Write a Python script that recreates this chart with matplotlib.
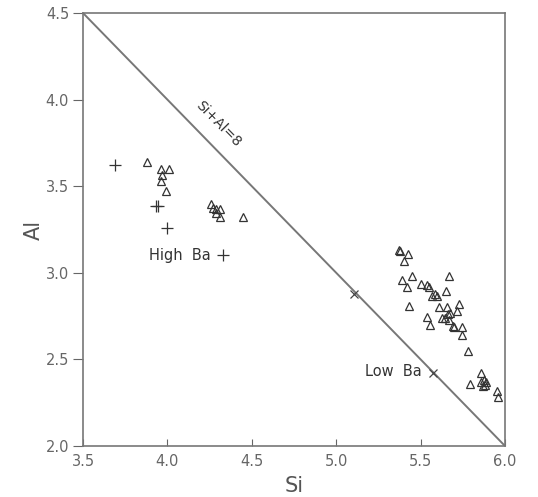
import matplotlib
matplotlib.use("Agg")
import matplotlib.pyplot as plt

# High Ba group
highba_tri_si = [3.88, 3.96, 4.01, 3.97, 3.96, 3.99,
                 4.26, 4.27, 4.29, 4.31, 4.29, 4.31, 4.45]
highba_tri_al = [3.64, 3.60, 3.60, 3.565, 3.53, 3.47,
                 3.395, 3.375, 3.37, 3.37, 3.345, 3.32, 3.32]
highba_plus_si = [3.69, 3.93, 3.945, 4.00, 4.33]
highba_plus_al = [3.62, 3.385, 3.385, 3.26, 3.10]

# Low Ba group
lowba_tri_si = [5.37, 5.38, 5.425, 5.40, 5.39, 5.45, 5.42, 5.67, 5.50, 5.54,
                5.55, 5.65, 5.585, 5.57, 5.597, 5.43, 5.61, 5.655, 5.73, 5.715,
                5.675, 5.54, 5.625, 5.645, 5.66, 5.67, 5.555, 5.69, 5.695, 5.745,
                5.745, 5.78, 5.855, 5.79, 5.86, 5.875, 5.88, 5.89, 5.95, 5.96,
                5.87]
lowba_tri_al = [3.132, 3.128, 3.11, 3.068, 2.96, 2.98, 2.918, 2.98, 2.935, 2.93,
                2.92, 2.895, 2.88, 2.865, 2.865, 2.808, 2.80, 2.80, 2.82, 2.78,
                2.77, 2.745, 2.74, 2.74, 2.765, 2.725, 2.70, 2.695, 2.685, 2.687,
                2.64, 2.55, 2.42, 2.358, 2.37, 2.38, 2.355, 2.37, 2.32, 2.285,
                2.345]
lowba_x_si = [5.105, 5.573]
lowba_x_al = [2.875, 2.42]

line_si = [3.5, 6.0]
line_al = [4.5, 2.0]

xticks = [3.5, 4.0, 4.5, 5.0, 5.5, 6.0]
yticks = [2.0, 2.5, 3.0, 3.5, 4.0, 4.5]

plt.rcParams['font.family'] = ['DejaVu Sans']
fig = plt.figure(figsize=(5.38, 4.97), dpi=100)
ax = fig.add_axes([0.1543, 0.1026, 0.7844, 0.8712])

gray = '#666666'
ax.plot(line_si, line_al, color='#777777', lw=1.4, zorder=1)
ax.plot(highba_tri_si, highba_tri_al, ls='none', marker='^', ms=5.8,
        mfc='none', mec='#333333', mew=0.9)
ax.plot(lowba_tri_si, lowba_tri_al, ls='none', marker='^', ms=5.8,
        mfc='none', mec='#333333', mew=0.9)
ax.plot(highba_plus_si, highba_plus_al, ls='none', marker='+', ms=8,
        mec='#333333', mew=0.9)
ax.plot(lowba_x_si, lowba_x_al, ls='none', marker='x', ms=5.5,
        mec='#444444', mew=0.9)

ax.set_xlim(3.5, 6.0)
ax.set_ylim(2.0, 4.5)
ax.set_xticks(xticks)
ax.set_yticks(yticks)
ax.set_xticklabels([f"{v:.1f}" for v in xticks])
ax.set_yticklabels([f"{v:.1f}" for v in yticks])
ax.tick_params(axis='x', direction='in', length=5, color=gray, labelcolor='#666666',
               labelsize=10.5, pad=6)
ax.tick_params(axis='y', direction='out', length=7, color=gray, labelcolor='#666666',
               labelsize=10.5, pad=3)
for s in ax.spines.values():
    s.set_color('#777777')
    s.set_linewidth(1.2)

ax.set_xlabel('Si', fontsize=15, color='#555555', labelpad=5)
ax.set_ylabel('Al', fontsize=15, color='#555555', labelpad=1)

ax.text(4.30, 3.86, 'Si+Al=8', rotation=-45.5, fontsize=10, color='#333333',
        ha='center', va='center', rotation_mode='anchor')
ax.text(3.89, 3.10, 'High  Ba', fontsize=10.5, color='#333333', ha='left', va='center')
ax.text(5.17, 2.43, 'Low  Ba', fontsize=10.5, color='#333333', ha='left', va='center')

fig.savefig('out.png', dpi=100)
